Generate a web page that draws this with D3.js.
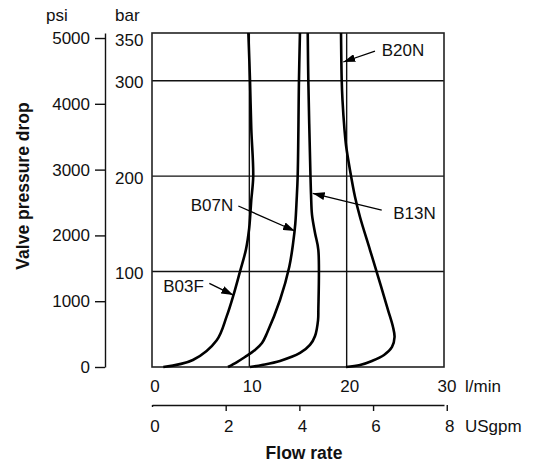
<!DOCTYPE html>
<html>
<head>
<meta charset="utf-8">
<script src="https://cdn.jsdelivr.net/npm/d3@7"></script>
<style>
  html, body { margin: 0; padding: 0; background: #fff; }
  svg { display: block; }
  text { font-family: "Liberation Sans", Arial, Helvetica, sans-serif; fill: #111; }
</style>
</head>
<body>
<svg id="chart" width="538" height="464"></svg>
<script>
// ---------- data ----------
const flowTicksLmin = [0, 10, 20, 30];
const flowTicksGpm = [0, 2, 4, 6, 8];
const psiTicks = [0, 1000, 2000, 3000, 4000, 5000];
const barTicks = [100, 200, 300, 350];
const gridBar = [100, 200, 300];
const gridFlow = [10, 20];

// curves: [flow l/min, pressure drop bar]
const curveB03F = [[1.16,0],[4.2,7.3],[6.65,28],[7.67,53],[8.36,75],[9.04,100],[9.65,123],[9.98,145],[10.1,160],[10.2,175],[10.4,200],[10.2,250],[10.07,300],[9.9,350]];
const curveB07N = [[7.81,0],[8.73,5.2],[9.55,10.5],[10.58,17.8],[11.3,25.1],[11.82,35.6],[13.15,70.2],[14.1,104.8],[14.5,130],[14.72,150],[14.86,175],[14.97,201],[15.1,300.7],[15.2,350]];
const curveB13N = [[10.07,0],[11.3,2.1],[13.15,6.3],[15.21,14.7],[16.23,23.1],[16.75,32.5],[17.06,49.2],[17.09,59.7],[17.09,122.6],[16.75,140.4],[16.44,159.3],[16.34,180.2],[16.28,201],[16.06,300.7],[16.0,350]];
const curveB20N = [[19.93,0],[21.37,2.1],[22.6,6.3],[23.84,12.6],[24.66,21],[24.92,31.4],[24.76,41.9],[24.25,59.7],[23.43,88],[22.4,122.6],[21.37,157.2],[20.86,178.1],[20.34,206.4],[19.93,232.6],[19.78,248.3],[19.57,279.8],[19.49,300.7],[19.42,350]];
const curveNames = ["B03F", "B07N", "B13N", "B20N"];
// annotation label anchor (flow, bar), arrow start, arrow tip
const labelPos = [[1.16,84.9],[3.98,169.8],[24.79,161],[23.6,332.2]];
const arrowFrom = [[5.89,87.7],[8.87,168.7],[23.6,164.5],[22.91,331.1]];
const arrowTo = [[8.35,75.4],[14.69,142.5],[16.51,182],[19.65,319.6]];

const LMIN_PER_GPM = 3.78541;
const PSI_PER_BAR = 14.5038;

// ---------- layout ----------
const svg = d3.select("#chart");
const pL = 152, pR = 444, pT = 33, pB = 367;
const x = d3.scaleLinear().domain([0, 30]).range([pL, pR]);
const y = d3.scaleLinear().domain([0, 350]).range([pB, pT]);
const xg = d3.scaleLinear().domain([0, 30 / LMIN_PER_GPM]).range([pL, pR]);
const yp = d3.scaleLinear().domain([0, 350 * PSI_PER_BAR]).range([pB, pT]);

const FS = 17;

// grid lines
svg.append("g").selectAll("line").data(gridBar).join("line")
  .attr("x1", pL).attr("x2", pR)
  .attr("y1", d => y(d)).attr("y2", d => y(d))
  .attr("stroke", "#111").attr("stroke-width", 1.4);
svg.append("g").selectAll("line").data(gridFlow).join("line")
  .attr("x1", d => x(d)).attr("x2", d => x(d))
  .attr("y1", pT).attr("y2", pB)
  .attr("stroke", "#111").attr("stroke-width", 1.4);

// frame
svg.append("rect").attr("x", pL).attr("y", pT)
  .attr("width", pR - pL).attr("height", pB - pT)
  .attr("fill", "none").attr("stroke", "#222").attr("stroke-width", 1.6);

// curves
const line = d3.line().x(d => x(d[0])).y(d => y(d[1])).curve(d3.curveCatmullRom.alpha(0.5));
const curves = [curveB03F, curveB07N, curveB13N, curveB20N];
svg.append("g").selectAll("path").data(curves).join("path")
  .attr("d", line).attr("fill", "none")
  .attr("stroke", "#000").attr("stroke-width", 2.6).attr("stroke-linejoin", "round");

// arrow marker
svg.append("defs").append("marker")
  .attr("id", "arr").attr("viewBox", "0 0 12 8").attr("refX", 12).attr("refY", 4)
  .attr("markerWidth", 12).attr("markerHeight", 8).attr("markerUnits", "userSpaceOnUse")
  .attr("orient", "auto")
  .append("path").attr("d", "M0,0 L12,4 L0,8 Z").attr("fill", "#000");

const ann = svg.append("g");
curveNames.forEach((name, i) => {
  ann.append("line")
    .attr("x1", x(arrowFrom[i][0])).attr("y1", y(arrowFrom[i][1]))
    .attr("x2", x(arrowTo[i][0])).attr("y2", y(arrowTo[i][1]))
    .attr("stroke", "#000").attr("stroke-width", 1.3).attr("marker-end", "url(#arr)");
  ann.append("text")
    .attr("x", x(labelPos[i][0])).attr("y", y(labelPos[i][1]))
    .attr("dy", "0.36em").attr("font-size", FS).text(name);
});

// psi axis (left)
const psiX = 105;
const gPsi = svg.append("g").attr("transform", `translate(${psiX},0)`)
  .call(d3.axisLeft(yp).tickValues(psiTicks).tickFormat(d3.format("d"))
    .tickSize(10).tickPadding(5).tickSizeOuter(0));
gPsi.select(".domain").attr("stroke", "#111").attr("stroke-width", 1.4);
gPsi.selectAll(".tick line").attr("stroke", "#111").attr("stroke-width", 1.4);
gPsi.selectAll(".tick text").attr("font-size", FS).attr("font-family", null).attr("fill", "#111");

// bar labels (no ticks)
svg.append("g").selectAll("text").data(barTicks).join("text")
  .attr("x", 115).attr("y", d => y(d))
  .attr("dy", d => d === 350 ? "0.75em" : "0.45em")
  .attr("font-size", FS).text(d => d);

// unit labels on top
svg.append("text").attr("x", 46).attr("y", 21).attr("font-size", FS).text("psi");
svg.append("text").attr("x", 115).attr("y", 21).attr("font-size", FS).text("bar");

// y title
svg.append("text")
  .attr("transform", "translate(29,186) rotate(-90)")
  .attr("text-anchor", "middle").attr("font-size", 17.5).attr("font-weight", "bold")
  .text("Valve pressure drop");

// l/min tick labels
svg.append("g").selectAll("text").data(flowTicksLmin).join("text")
  .attr("x", d => x(d) + 3).attr("y", 391.5).attr("text-anchor", "middle")
  .attr("font-size", FS).text(d => d);
svg.append("text").attr("x", 465).attr("y", 391.5).attr("font-size", FS).text("l/min");

// USgpm axis
const gpmY = 405;
const gG = svg.append("g").attr("transform", `translate(0,${gpmY})`)
  .call(d3.axisBottom(xg).tickValues(flowTicksGpm).tickSize(6).tickSizeOuter(0).tickFormat(""));
gG.select(".domain").attr("stroke", "#111").attr("stroke-width", 1.4);
gG.selectAll(".tick line").attr("stroke", "#111").attr("stroke-width", 1.4)
  .attr("y2", d => d === 0 ? 2 : 6);
svg.append("g").selectAll("text").data(flowTicksGpm).join("text")
  .attr("x", d => xg(d) + 3).attr("y", 431.5).attr("text-anchor", "middle")
  .attr("font-size", FS).text(d => d);
svg.append("text").attr("x", 465).attr("y", 431.5).attr("font-size", FS).text("USgpm");

// x title
svg.append("text").attr("x", 304).attr("y", 459).attr("text-anchor", "middle")
  .attr("font-size", 17.5).attr("font-weight", "bold").text("Flow rate");
</script>
</body>
</html>
